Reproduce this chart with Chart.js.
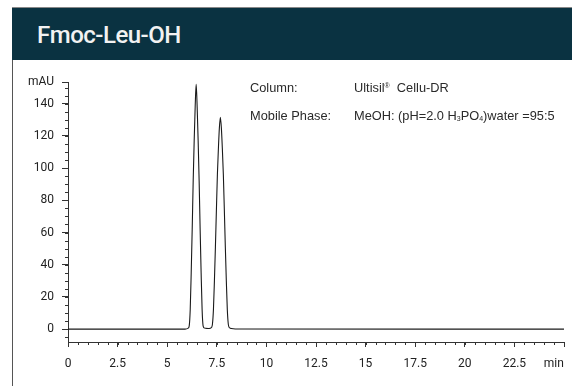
<!DOCTYPE html>
<html>
<head>
<meta charset="utf-8">
<script src="https://cdn.jsdelivr.net/npm/chart.js@4"></script>
<style>
  html, body { margin: 0; padding: 0; background: #fff; }
  body { width: 572px; height: 386px; position: relative; overflow: hidden; }
  .topline { position: absolute; left: 12px; top: 7px; width: 560px; height: 1px; background: #888; }
  .banner { position: absolute; left: 12px; top: 8px; width: 560px; height: 52px; background: #0a3241; }
  .banner h1 { margin: 0; position: absolute; left: 25px; top: 13px; font: 500 24px Roboto, sans-serif; color: #f2f2f2; letter-spacing: -0.5px; }
  .leftline { position: absolute; left: 12px; top: 60px; width: 1px; height: 326px; background: #555; }
  #wrap { position: absolute; left: 13px; top: 61px; width: 559px; height: 325px; }
  .note { position: absolute; font: 12.8px "Liberation Sans", Arial, sans-serif; color: #2a2a2a; white-space: nowrap; }
  .note sup { font-size: 7px; vertical-align: 4px; }
  .note sub { font-size: 7px; vertical-align: -1px; }
</style>
</head>
<body>
<div class="topline"></div>
<div class="banner"><h1>Fmoc-Leu-OH</h1></div>
<div class="leftline"></div>
<div id="wrap"><canvas id="chrom" width="559" height="325"></canvas></div>
<div class="note" style="left:250px;top:80px;">Column:</div>
<div class="note" style="left:354px;top:80px;">Ultisil<sup>®</sup>&nbsp; Cellu-DR</div>
<div class="note" style="left:250px;top:108px;">Mobile Phase:</div>
<div class="note" style="left:354px;top:108px;">MeOH: (pH=2.0 H<sub>3</sub>PO<sub>4</sub>)water =95:5</div>
<script>
// retention time (min) and absorbance (mAU)
const times = [0, 5.9, 6.06, 6.11, 6.16, 6.21, 6.26, 6.31, 6.36, 6.41, 6.46, 6.51, 6.56, 6.61, 6.66, 6.71, 6.76, 6.81, 6.86, 6.94,
    7.07, 7.17, 7.23, 7.28, 7.33, 7.38, 7.43, 7.48, 7.53, 7.58, 7.63, 7.68, 7.73, 7.78, 7.83, 7.88, 7.93, 7.98, 8.03, 8.08, 8.13, 8.23, 8.43, 25];
const absorbance = [0, 0, 0.6, 2, 12, 35, 62, 92, 117, 138, 152, 138, 117, 92, 62, 35, 12, 2, 0.8, 0.5,
    0.4, 0.6, 1, 3, 12, 30, 51, 74, 96, 112, 125, 131.5, 125, 112, 96, 74, 51, 30, 12, 3, 1, 0.4, 0.1, 0];

// axis ticks
const xMajor = [0, 2.5, 5, 7.5, 10, 12.5, 15, 17.5, 20, 22.5, 25];
const yMajor = [0, 20, 40, 60, 80, 100, 120, 140];
const xMin = 0, xMax = 25;
const yMin = -8, yMax = 153.5;
const xUnit = 'min';
const yUnit = 'mAU';

const xMinor = [];
for (let v = xMin; v <= xMax + 1e-9; v += 0.5) xMinor.push(v);
const yMinor = [];
for (let v = -5; v <= 150; v += 5) yMinor.push(v);

const axisColor = '#333';
const tickFont = { family: 'Roboto', size: 12 };

// short minor ticks, chart.js only draws one tick length per axis
const minorTicks = {
    id: 'minorTicks',
    afterDraw(chart) {
        const { ctx, scales: { x, y } } = chart;
        ctx.save();
        ctx.strokeStyle = axisColor;
        ctx.lineWidth = 1;
        ctx.beginPath();
        xMinor.forEach(v => {
            const px = Math.round(x.getPixelForValue(v)) + 0.5;
            ctx.moveTo(px, x.top);
            ctx.lineTo(px, x.top + 3);
        });
        yMinor.forEach(v => {
            const py = Math.round(y.getPixelForValue(v)) + 0.5;
            ctx.moveTo(y.right - 3, py);
            ctx.lineTo(y.right, py);
        });
        ctx.stroke();
        ctx.restore();
    }
};

new Chart(document.getElementById('chrom'), {
    type: 'line',
    data: {
        datasets: [{
            data: times.map((t, i) => ({ x: t, y: absorbance[i] })),
            borderColor: '#1a1a1a',
            borderWidth: 1.1,
            pointRadius: 0,
            cubicInterpolationMode: 'monotone',
            fill: false
        }]
    },
    options: {
        responsive: false,
        animation: false,
        layout: { padding: { top: 21, right: 8, left: 0, bottom: 0 } },
        plugins: { legend: { display: false }, tooltip: { enabled: false } },
        scales: {
            x: {
                type: 'linear',
                min: xMin,
                max: xMax,
                afterBuildTicks: s => { s.ticks = xMajor.map(v => ({ value: v })); },
                afterFit: s => {
                    s.height = 44;
                    // don't let the wide last label squeeze the plot
                    s.paddingLeft = 0;
                    s.paddingRight = 0;
                },
                ticks: {
                    font: tickFont,
                    color: '#222',
                    padding: 10,
                    maxRotation: 0,
                    // unit sits left of the last tick, like the original
                    callback: v => v === xMax ? xUnit + '\u2007\u2007\u2007' : v
                },
                grid: { drawOnChartArea: false, drawTicks: true, tickLength: 5, tickColor: axisColor },
                border: { display: true, color: axisColor, width: 1 }
            },
            y: {
                min: yMin,
                max: yMax,
                afterBuildTicks: s => { s.ticks = yMajor.concat([yMax]).map(v => ({ value: v })); },
                afterFit: s => { s.width = 55; },
                ticks: {
                    font: tickFont,
                    color: '#222',
                    padding: 8,
                    callback: v => v === yMax ? yUnit : v
                },
                grid: { drawOnChartArea: false, drawTicks: true, tickLength: 6, tickColor: axisColor },
                border: { display: true, color: axisColor, width: 1 }
            }
        }
    },
    plugins: [minorTicks]
});
</script>
</body>
</html>
